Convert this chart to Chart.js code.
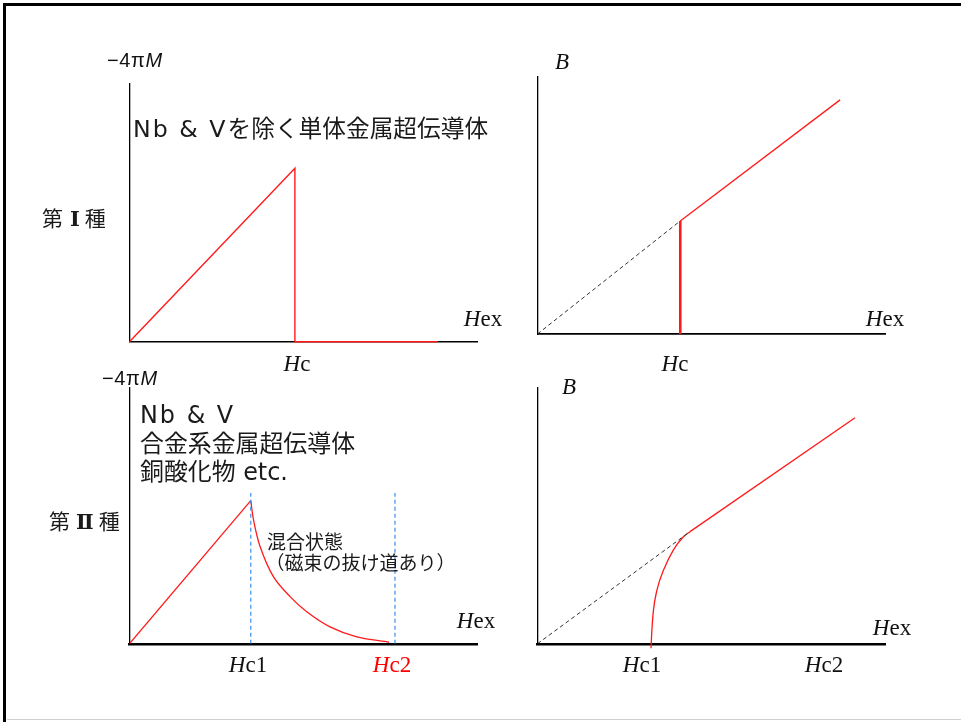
<!DOCTYPE html>
<html>
<head>
<meta charset="utf-8">
<script src="https://cdn.jsdelivr.net/npm/chart.js@4"></script>
<style>
  html, body { margin: 0; padding: 0; background: #fff; }
  #page { position: relative; width: 961px; height: 722px; overflow: hidden; background: #fff; }
  #page canvas { position: absolute; left: 0; top: 0; }
  .frame { position: absolute; left: 3px; top: 3px; width: 970px; height: 730px;
           border-top: 3px solid #000; border-left: 3px solid #000; }
  .bottomline { position: absolute; left: 7px; top: 719px; width: 960px; height: 1px; background: #d0d0d0; }
  .t { position: absolute; line-height: 1; white-space: nowrap; color: #111; }
  .c { transform: translate(-50%, -50%); }
  .l { transform: translate(0, -50%); }
  .serif { font-family: "Liberation Serif", "DejaVu Serif", serif; font-size: 23px; }
  .serif i { font-style: italic; }
  .jp { font-family: "DejaVu Sans", "Noto Sans CJK JP", sans-serif; color: #1a1a1a; }
  .lat { letter-spacing: 2px; }
  .jpk { font-family: "Noto Sans CJK JP", sans-serif; color: #1a1a1a; }
  .rn { font-family: "DejaVu Serif", "Liberation Serif", serif; font-weight: bold; }
  .mag { font-family: "Liberation Sans", Arial, sans-serif; font-size: 20px; letter-spacing: 0.6px; }
  .mag i { font-style: italic; }
</style>
</head>
<body>
<div id="page">
  <div class="frame"></div>
  <div class="bottomline"></div>
  <canvas id="c1" width="961" height="722"></canvas>
  <canvas id="c2" width="961" height="722"></canvas>
  <canvas id="c3" width="961" height="722"></canvas>
  <canvas id="c4" width="961" height="722"></canvas>

  <!-- Panel 1 texts -->
  <div class="t l mag" style="left:107px; top:60px;">−4π<i>M</i></div>
  <div class="t l jp" style="left:133px; top:130px; font-size:23.7px;"><span class="lat">Nb &amp; V</span>を除く単体金属超伝導体</div>
  <div class="t l jpk" style="left:42px; top:218px; font-size:21px;">第<span class="rn" style="margin:0 5px 0 7px;">Ⅰ</span>種</div>
  <div class="t c serif" style="left:483px; top:318px;"><i>H</i>ex</div>
  <div class="t c serif" style="left:297px; top:363px;"><i>H</i>c</div>

  <!-- Panel 2 texts -->
  <div class="t c serif" style="left:562px; top:61px;"><i>B</i></div>
  <div class="t c serif" style="left:885px; top:318px;"><i>H</i>ex</div>
  <div class="t c serif" style="left:675px; top:363px;"><i>H</i>c</div>

  <!-- Panel 3 texts -->
  <div class="t l mag" style="left:102px; top:378px;">−4π<i>M</i></div>
  <div class="t l jp" style="left:140px; top:416px; font-size:23.9px;"><span class="lat">Nb &amp; V</span></div>
  <div class="t l jp" style="left:140px; top:445px; font-size:23.9px;">合金系金属超伝導体</div>
  <div class="t l jp" style="left:140px; top:473px; font-size:23.9px;">銅酸化物 etc.</div>
  <div class="t l jpk" style="left:49px; top:521px; font-size:21px;">第<span class="rn" style="margin:0 5px 0 6px;">Ⅱ</span>種</div>
  <div class="t l jpk" style="left:267px; top:540px; font-size:19px;">混合状態</div>
  <div class="t l jpk" style="left:265.5px; top:561px; font-size:19px;">（磁束の抜け道あり）</div>
  <div class="t c serif" style="left:476px; top:620px;"><i>H</i>ex</div>
  <div class="t c serif" style="left:248px; top:664px;"><i>H</i>c1</div>
  <div class="t c serif" style="left:392px; top:664px; color:#ff0000;"><i>H</i>c2</div>

  <!-- Panel 4 texts -->
  <div class="t c serif" style="left:569px; top:386px;"><i>B</i></div>
  <div class="t c serif" style="left:892px; top:627px;"><i>H</i>ex</div>
  <div class="t c serif" style="left:642px; top:664px;"><i>H</i>c1</div>
  <div class="t c serif" style="left:824px; top:664px;"><i>H</i>c2</div>
</div>

<script>
// ---------- Data (schematic units, axes span 0..10) ----------
// Panel 1: Type I, -4πM vs Hex
const typeI_M_x = [0, 4.75, 4.75, 8.86];
const typeI_M_y = [0, 6.73, 0, 0];

// Panel 2: Type I, B vs Hex
const typeI_Bdash_x = [0, 4.10];
const typeI_Bdash_y = [0, 4.40];
const typeI_Bjump_x = [4.10, 4.10];
const typeI_Bjump_y = [0, 4.40];
const typeI_Bline_x = [4.10, 8.69];
const typeI_Bline_y = [4.40, 9.11];

// Panel 3: Type II, -4πM vs Hex
const typeII_Mrise_x = [0, 3.49];
const typeII_Mrise_y = [0, 5.59];
const typeII_Mcurve_x = [3.49, 3.57, 3.76, 4.14, 4.62, 5.10, 5.77, 6.54, 7.40, 7.47];
const typeII_Mcurve_y = [5.59, 4.83, 3.79, 2.62, 1.84, 1.25, 0.66, 0.27, 0.08, 0.05];
const typeII_Hc1 = 3.49;
const typeII_Hc2 = 7.64;
const typeII_guideTop = 5.89;

// Panel 4: Type II, B vs Hex
const typeII_Bdash_x = [0, 4.38];
const typeII_Bdash_y = [0, 4.37];
const typeII_Bcurve_x = [3.26, 3.28, 3.33, 3.43, 3.62, 3.90, 4.19, 4.38];
const typeII_Bcurve_y = [-0.18, 0.41, 1.31, 2.09, 2.87, 3.65, 4.17, 4.37];
const typeII_Bline_x = [4.38, 9.12];
const typeII_Bline_y = [4.37, 8.81];

// ---------- Helpers ----------
const zip = (xs, ys) => xs.map((x, i) => ({ x, y: ys[i] }));
const RED = '#ff1a1a';

function lineDs(xs, ys, opts) {
  return Object.assign({
    data: zip(xs, ys),
    borderColor: RED,
    borderWidth: 1.3,
    pointRadius: 0,
    fill: false,
    tension: 0,
    showLine: true
  }, opts || {});
}

function makeChart(id, area, datasets, xBorder, yBorder) {
  const W = 961, H = 722;
  return new Chart(document.getElementById(id), {
    type: 'scatter',
    data: { datasets },
    options: {
      responsive: false,
      animation: false,
      events: [],
      layout: { padding: { left: area.l, top: area.t, right: W - area.r, bottom: H - area.b } },
      plugins: { legend: { display: false }, tooltip: { enabled: false }, title: { display: false } },
      scales: {
        x: {
          type: 'linear', min: 0, max: 10,
          grid: { display: false, drawTicks: false },
          ticks: { display: false },
          border: { display: true, color: '#000', width: xBorder }
        },
        y: {
          type: 'linear', min: 0, max: 10,
          grid: { display: false, drawTicks: false },
          ticks: { display: false },
          border: { display: true, color: '#000', width: yBorder }
        }
      }
    }
  });
}

// Panel 1
makeChart('c1', { l: 129.5, t: 84, r: 477.7, b: 341.7 }, [
  lineDs(typeI_M_x, typeI_M_y, { borderWidth: 1.4, clip: false })
], 1.6, 1.3);

// Panel 2
makeChart('c2', { l: 537.5, t: 77, r: 885.7, b: 334 }, [
  lineDs(typeI_Bdash_x, typeI_Bdash_y, { borderColor: '#333', borderWidth: 1, borderDash: [4, 3] }),
  lineDs(typeI_Bjump_x, typeI_Bjump_y, { borderWidth: 2.6 }),
  lineDs(typeI_Bline_x, typeI_Bline_y, { borderWidth: 1.3 })
], 1.8, 1.3);

// Panel 3
makeChart('c3', { l: 129.5, t: 387.7, r: 477, b: 643.7 }, [
  lineDs([typeII_Hc1, typeII_Hc1], [0, typeII_guideTop], { borderColor: '#3a8ef0', borderWidth: 1.2, borderDash: [4, 3] }),
  lineDs([typeII_Hc2, typeII_Hc2], [0, typeII_guideTop], { borderColor: '#3a8ef0', borderWidth: 1.2, borderDash: [4, 3] }),
  lineDs(typeII_Mrise_x, typeII_Mrise_y),
  lineDs(typeII_Mcurve_x, typeII_Mcurve_y, { tension: 0.35 })
], 2.4, 1.3);

// Panel 4
makeChart('c4', { l: 537.5, t: 387.3, r: 885.7, b: 643.7 }, [
  lineDs(typeII_Bdash_x, typeII_Bdash_y, { borderColor: '#333', borderWidth: 1, borderDash: [4, 3] }),
  lineDs(typeII_Bcurve_x, typeII_Bcurve_y, { cubicInterpolationMode: 'monotone', clip: false }),
  lineDs(typeII_Bline_x, typeII_Bline_y)
], 2.4, 1.3);
</script>
</body>
</html>
